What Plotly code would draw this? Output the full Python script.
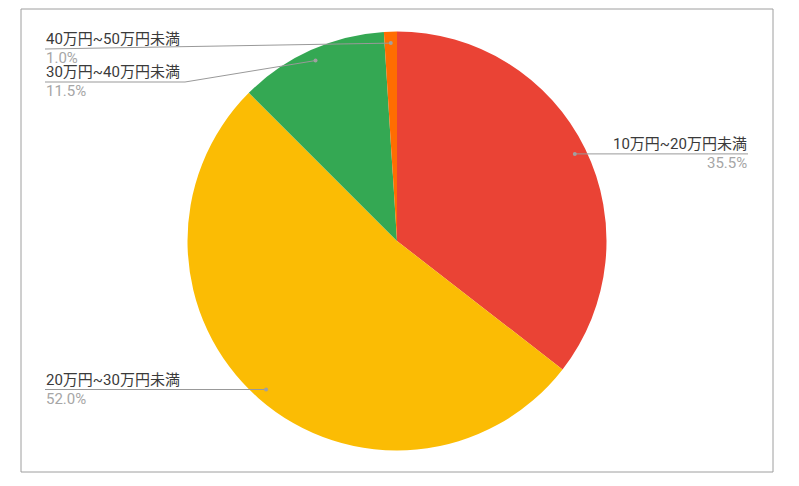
import math
import plotly.graph_objects as go

categories = ["10万円~20万円未満", "20万円~30万円未満", "30万円~40万円未満", "40万円~50万円未満"]
values = [35.5, 52.0, 11.5, 1.0]
colors = ["#EA4335", "#FBBC04", "#34A853", "#FF6D01"]

OFF = 8  # page body margin
W, H = 799 - OFF, 486 - OFF
CX, CY, R = 397, 241, 209.5

def px(x):
    return (x - OFF) / W

def py(y):
    return 1 - (y - OFF) / H

fig = go.Figure(go.Pie(
    labels=categories, values=values, sort=False, direction="clockwise", rotation=0,
    marker=dict(colors=colors, line=dict(width=0)),
    textinfo="none", hoverinfo="label+percent", showlegend=False,
    domain=dict(x=[px(CX - R), px(CX + R)], y=[py(CY + R), py(CY - R)]),
))

# label layout: (side, elbow_x, elbow_y, end_x)
label_layout = [
    ("right", None, None, 748),
    ("left", None, None, 45),
    ("left", 185, 82, 45),
    ("left", None, 49, 45),
]

shapes = []
annotations = []
total = sum(values)
cum = 0.0
for cat, val, (side, ex, ey, endx) in zip(categories, values, label_layout):
    mid = (cum + val / 2) / total * 2 * math.pi
    cum += val
    dx = CX + 0.945 * R * math.sin(mid)
    dy = CY - 0.945 * R * math.cos(mid)
    liney = ey if ey is not None else dy
    pts = [(dx, dy)]
    if ex is not None:
        pts.append((ex, liney))
    pts.append((endx, liney))
    for (x0, y0), (x1, y1) in zip(pts[:-1], pts[1:]):
        shapes.append(dict(type="line", xref="paper", yref="paper",
                           x0=px(x0), y0=py(y0), x1=px(x1), y1=py(y1),
                           line=dict(color="#999999", width=1)))
    shapes.append(dict(type="circle", xref="paper", yref="paper",
                       xsizemode="pixel", ysizemode="pixel",
                       xanchor=px(dx), yanchor=py(dy), x0=-2, x1=2, y0=-2, y1=2,
                       fillcolor="#a0a0a0", line=dict(width=0)))
    anchor = "right" if side == "right" else "left"
    annotations.append(dict(xref="paper", yref="paper", x=px(endx), y=py(liney),
                            text=cat, showarrow=False, xanchor=anchor, yanchor="bottom",
                            font=dict(size=15, color="#3a3a3a"), borderpad=0))
    annotations.append(dict(xref="paper", yref="paper", x=px(endx), y=py(liney - 1),
                            text=f"{val:.1f}%", showarrow=False, xanchor=anchor, yanchor="top",
                            font=dict(size=15, color="#a6a6a6"), borderpad=0))

shapes.append(dict(type="rect", xref="paper", yref="paper",
                   x0=px(21), y0=py(472), x1=px(773), y1=py(9),
                   line=dict(color="#9e9e9e", width=1), fillcolor="rgba(0,0,0,0)"))

fig.update_layout(
    width=W, height=H, margin=dict(l=0, r=0, t=0, b=0),
    paper_bgcolor="white", plot_bgcolor="white",
    font=dict(family="Roboto, 'Noto Sans CJK JP', sans-serif"),
    shapes=shapes, annotations=annotations,
)

fig.write_html("out.html")
